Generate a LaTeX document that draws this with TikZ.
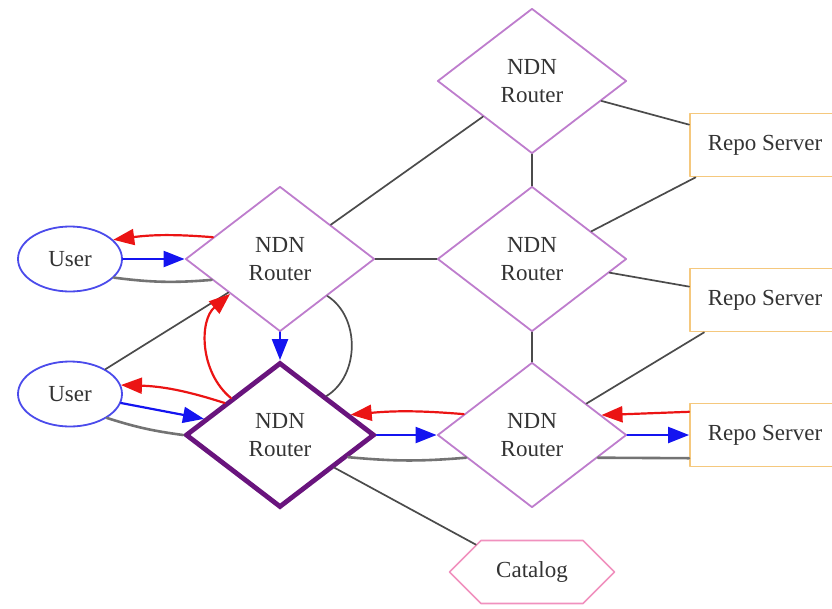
\documentclass[tikz,border=0pt]{standalone}
\usepackage{fontspec}
\setmainfont{Liberation Serif}
\usetikzlibrary{shapes.geometric,shapes.symbols,arrows.meta}
\definecolor{routerline}{RGB}{190,125,205}
\definecolor{mainrouter}{RGB}{105,20,125}
\definecolor{userline}{RGB}{75,75,235}
\definecolor{repoline}{RGB}{245,200,125}
\definecolor{catline}{RGB}{240,145,190}
\definecolor{linkgray}{RGB}{75,75,75}
\definecolor{pathgray}{RGB}{115,115,115}
\definecolor{datared}{RGB}{235,20,20}
\definecolor{interestblue}{RGB}{20,20,240}

\begin{document}
\begin{tikzpicture}[x=1pt, y=-1pt, line cap=round, line join=round,
	font=\fontsize{23}{28}\selectfont, text=black!80,
	router/.style={diamond, draw=routerline, line width=1.8pt, inner sep=0pt,
		minimum width=189pt, minimum height=145pt, align=center},
	user/.style={ellipse, draw=userline, line width=1.8pt, inner sep=0pt,
		minimum width=104pt, minimum height=65pt},
	repo/.style={rectangle, draw=repoline, line width=1.8pt, inner sep=0pt,
		minimum width=150pt, minimum height=63pt},
	catalog/.style={signal, signal to=east and west, signal pointer angle=90,
		draw=catline, line width=1.6pt, inner sep=0pt,
		minimum width=165pt, minimum height=63pt},
	link/.style={draw=linkgray, line width=1.7pt},
	path/.style={draw=pathgray, line width=2.6pt},
	interest/.style={draw=interestblue, line width=2.2pt, -{Triangle[length=21pt,width=16pt]}},
	data/.style={draw=datared, line width=2.2pt, -{Triangle[length=21pt,width=16pt]}}]
	
	\useasboundingbox (0,0) rectangle (832,608);
	
	% Routers
	\node[router] (r1) at (532,81) {NDN\\Router};
	\node[router] (r2) at (280,259) {NDN\\Router};
	\node[router] (r3) at (532,259) {NDN\\Router};
	\node[router, draw=mainrouter, line width=4.8pt, line join=miter] (r4) at (280,435) {NDN\\Router};
	\node[router] (r5) at (532,435) {NDN\\Router};
	
	% Users, repos and catalog
	\node[user] (u1) at (70,259) {User};
	\node[user] (u2) at (70,394) {User};
	\node[repo] (p1) at (765,145) {Repo Server};
	\node[repo] (p2) at (765,300) {Repo Server};
	\node[repo] (p3) at (765,435) {Repo Server};
	\node[catalog] (cat) at (532,572) {Catalog};
	
	% Plain links
	\draw[link] (r1.south) -- (r3.north);
	\draw[link] (r3.south) -- (r5.north);
	\draw[link] (r2.east) -- (r3.west);
	\draw[link] (r2.34) -- (r1.216);
	\draw[link] (r1.-16) -- (p1.165);
	\draw[link] (r3.25) -- (p1.205);
	\draw[link] (r3.-10) -- (p2.170);
	\draw[link] (r5.30) -- (p2.208);
	\draw[link] (u2.35) -- (r2.213);
	\draw[link] (r4.-31) -- (cat.154);
	
	% User 1 and first router
	\draw[data] (r2.162) to[bend right=6] (u1.24);
	\draw[interest] (u1.east) -- (r2.west);
	\draw[path] (u1.-23) to[bend right=6] (r2.197);
	
	% First router and main router
	\draw[interest] (r2.south) -- (r4.north);
	\draw[data] (r4.143) to[bend left=50] (r2.215);
	\draw[link] (r2.322) to[bend left=58] (r4.40);
	
	% User 2 and main router
	\draw[data] (r4.150) to[bend right=8] (u2.10);
	\draw[interest] (u2.-10) -- (r4.168);
	\draw[path] (u2.-33) to[bend right=5] (r4.west);
	
	% Main router and lower router
	\draw[data] (r5.163) to[bend right=5] (r4.16);
	\draw[interest] (r4.east) -- (r5.west);
	\draw[path] (r4.-18) to[bend right=5] (r5.199);
	
	% Lower router and repo server
	\draw[data] (p3.163) -- (r5.16);
	\draw[interest] (r5.east) -- (p3.west);
	\draw[path] (r5.-19) -- (p3.197);
	
\end{tikzpicture}
\end{document}
